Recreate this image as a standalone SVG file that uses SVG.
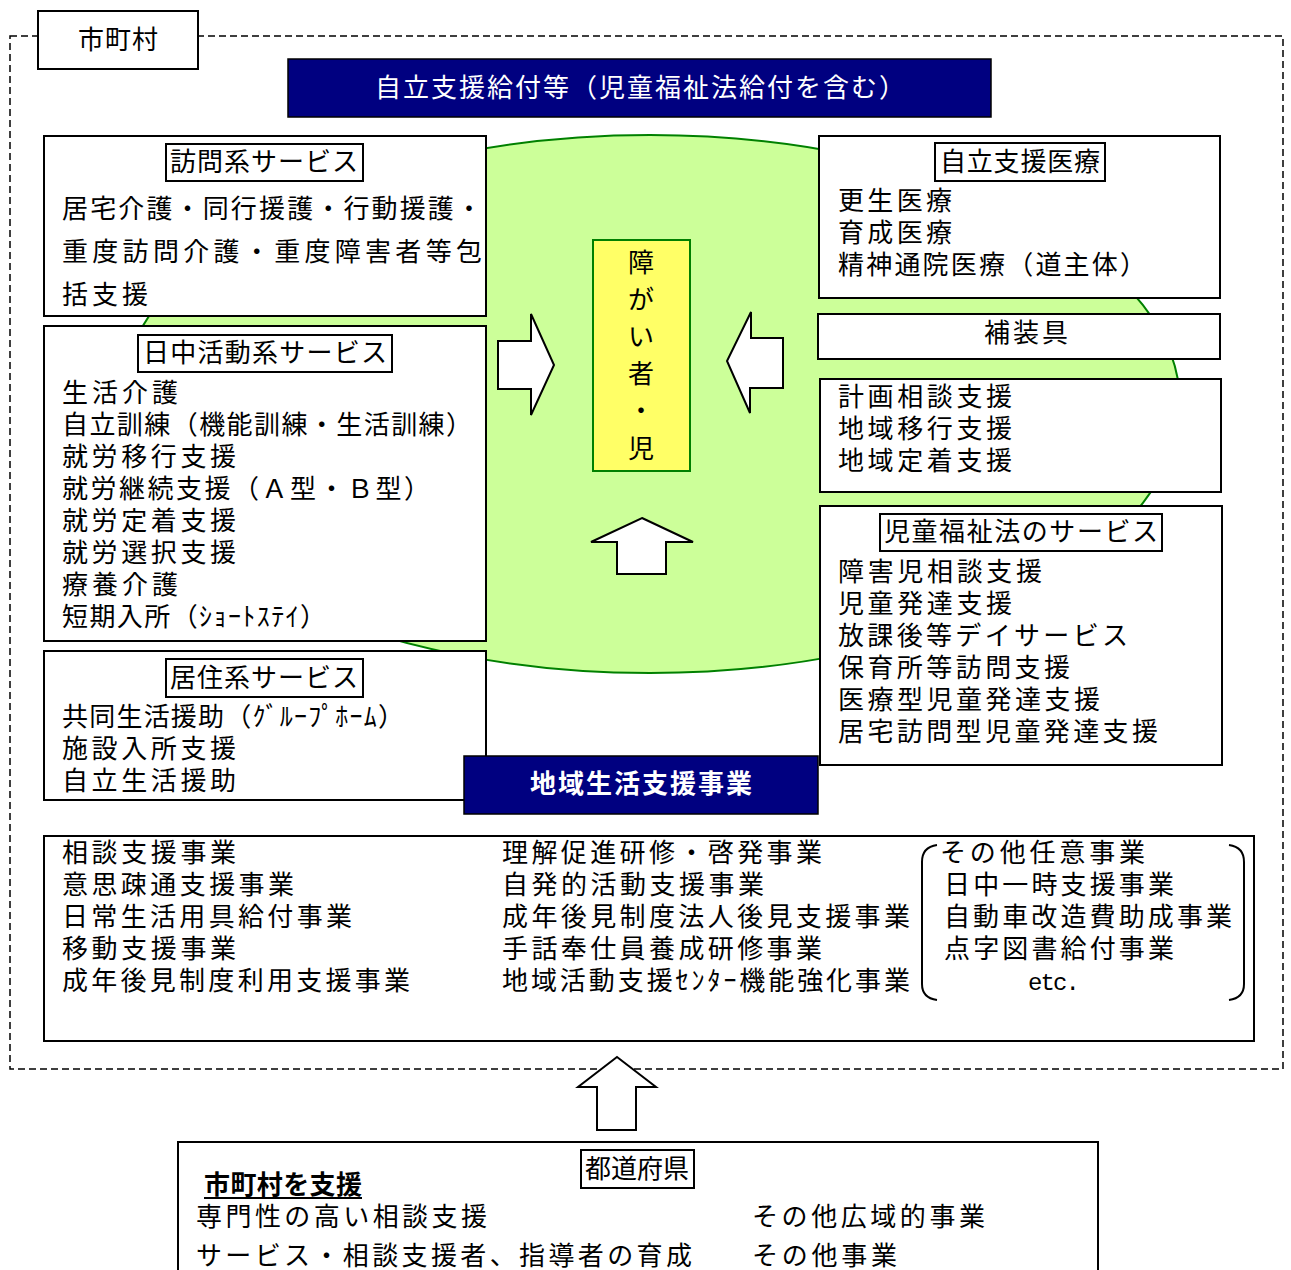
<svg xmlns="http://www.w3.org/2000/svg" width="1291" height="1270" viewBox="0 0 1291 1270">
<style>
  text { font-family: "Noto Sans CJK JP", "Liberation Sans", sans-serif; font-size: 26px; fill: #000; }
  .box { fill: #fff; stroke: #000; stroke-width: 2; }
  .tbox { fill: #fff; stroke: #000; stroke-width: 2; }
  .navy { fill: #000080; stroke: #000; stroke-width: 1.5; }
  .wt { fill: #fff; }
  .arrow { fill: #fff; stroke: #000; stroke-width: 2; stroke-linejoin: miter; }
  .mid { text-anchor: middle; }
</style>
<rect width="1291" height="1270" fill="#fff"/>

<g id="municipality-frame">
  <rect x="10" y="36" width="1273" height="1033" fill="none" stroke="#000" stroke-width="1.5" stroke-dasharray="7 4"/>
  <rect class="box" x="38" y="11" width="160" height="58"/>
  <text x="118" y="49" class="mid" textLength="80">市町村</text>
</g>

<g id="ellipse">
  <ellipse cx="650" cy="404" rx="530" ry="269" fill="#CCFF99" stroke="#008000" stroke-width="2"/>
</g>

<g id="header">
  <rect class="navy" x="288" y="59" width="703" height="58"/>
  <text x="375" y="97" class="wt" textLength="530">自立支援給付等（児童福祉法給付を含む）</text>
</g>

<g id="houmon">
  <rect class="box" x="44" y="136" width="442" height="180"/>
  <rect class="tbox" x="166" y="144" width="197" height="37"/>
  <text x="264" y="171" class="mid" textLength="188">訪問系サービス</text>
  <text x="62" y="218" textLength="420">居宅介護・同行援護・行動援護・</text>
  <text x="62" y="261" textLength="420">重度訪問介護・重度障害者等包</text>
  <text x="62" y="304" textLength="86">括支援</text>
</g>

<g id="nicchu">
  <rect class="box" x="44" y="326" width="442" height="315"/>
  <rect class="tbox" x="138" y="335" width="254" height="37"/>
  <text x="265" y="362" class="mid" textLength="244">日中活動系サービス</text>
  <text x="62" y="402" textLength="116">生活介護</text>
  <text x="62" y="434" textLength="410">自立訓練（機能訓練・生活訓練）</text>
  <text x="62" y="466" textLength="174">就労移行支援</text>
  <text x="62" y="498" textLength="368">就労継続支援（Ａ型・Ｂ型）</text>
  <text x="62" y="530" textLength="174">就労定着支援</text>
  <text x="62" y="562" textLength="174">就労選択支援</text>
  <text x="62" y="594" textLength="116">療養介護</text>
  <text x="62" y="626" textLength="264">短期入所（ｼｮｰﾄｽﾃｲ）</text>
</g>

<g id="kyoju">
  <rect class="box" x="44" y="651" width="442" height="149"/>
  <rect class="tbox" x="166" y="659" width="197" height="38"/>
  <text x="264" y="687" class="mid" textLength="188">居住系サービス</text>
  <text x="62" y="726" textLength="342">共同生活援助（ｸﾞﾙｰﾌﾟﾎｰﾑ）</text>
  <text x="62" y="758" textLength="174">施設入所支援</text>
  <text x="62" y="790" textLength="174">自立生活援助</text>
</g>

<g id="person">
  <rect x="593" y="240" width="97" height="231" fill="#FFFF66" stroke="#008000" stroke-width="2"/>
  <text x="641" y="272" class="mid">障</text>
  <text x="641" y="309" class="mid">が</text>
  <text x="641" y="346" class="mid">い</text>
  <text x="641" y="383" class="mid">者</text>
  <text x="641" y="420" class="mid">・</text>
  <text x="641" y="458" class="mid">児</text>
</g>

<g id="jiritsu-iryo">
  <rect class="box" x="819" y="136" width="401" height="162"/>
  <rect class="tbox" x="935" y="143" width="170" height="38"/>
  <text x="1020" y="171" class="mid" textLength="160">自立支援医療</text>
  <text x="838" y="210" textLength="114">更生医療</text>
  <text x="838" y="242" textLength="114">育成医療</text>
  <text x="838" y="274" textLength="308">精神通院医療（道主体）</text>
</g>

<g id="hosougu">
  <rect class="box" x="818" y="314" width="402" height="45"/>
  <text x="1026" y="342" class="mid" textLength="84">補装具</text>
</g>

<g id="soudan">
  <rect class="box" x="820" y="379" width="401" height="113"/>
  <text x="838" y="406" textLength="174">計画相談支援</text>
  <text x="838" y="438" textLength="174">地域移行支援</text>
  <text x="838" y="470" textLength="174">地域定着支援</text>
</g>

<g id="jidou">
  <rect class="box" x="820" y="506" width="402" height="259"/>
  <rect class="tbox" x="880" y="514" width="282" height="37"/>
  <text x="1021" y="541" class="mid" textLength="274">児童福祉法のサービス</text>
  <text x="838" y="581" textLength="204">障害児相談支援</text>
  <text x="838" y="613" textLength="174">児童発達支援</text>
  <text x="838" y="645" textLength="290">放課後等デイサービス</text>
  <text x="838" y="677" textLength="232">保育所等訪問支援</text>
  <text x="838" y="709" textLength="262">医療型児童発達支援</text>
  <text x="838" y="741" textLength="320">居宅訪問型児童発達支援</text>
</g>

<g id="chiiki-header">
  <rect class="navy" x="464" y="756" width="354" height="58"/>
  <text x="641" y="793" class="mid wt" font-weight="bold" textLength="222">地域生活支援事業</text>
</g>

<g id="chiiki">
  <rect class="box" x="44" y="836" width="1210" height="205"/>
  <text x="62" y="862" textLength="174">相談支援事業</text>
  <text x="62" y="894" textLength="232">意思疎通支援事業</text>
  <text x="62" y="926" textLength="290">日常生活用具給付事業</text>
  <text x="62" y="958" textLength="174">移動支援事業</text>
  <text x="62" y="990" textLength="348">成年後見制度利用支援事業</text>
  <text x="502" y="862" textLength="320">理解促進研修・啓発事業</text>
  <text x="502" y="894" textLength="262">自発的活動支援事業</text>
  <text x="502" y="926" textLength="408">成年後見制度法人後見支援事業</text>
  <text x="502" y="958" textLength="320">手話奉仕員養成研修事業</text>
  <text x="502" y="990" textLength="408">地域活動支援ｾﾝﾀｰ機能強化事業</text>
  <path d="M937 845 Q922 847 922 862 L922 984 Q922 998 937 1000" fill="none" stroke="#000" stroke-width="2"/>
  <path d="M1229 845 Q1244 847 1244 862 L1244 984 Q1244 998 1229 1000" fill="none" stroke="#000" stroke-width="2"/>
  <text x="940" y="862" textLength="205">その他任意事業</text>
  <text x="944" y="894" textLength="230">日中一時支援事業</text>
  <text x="944" y="926" textLength="288">自動車改造費助成事業</text>
  <text x="944" y="958" textLength="230">点字図書給付事業</text>
  <text x="1028" y="990" textLength="52" style="font-family:'Liberation Mono',monospace;font-size:24px">etc.</text>
</g>

<g id="prefecture">
  <rect class="box" x="178" y="1142" width="920" height="140"/>
  <rect class="tbox" x="581" y="1150" width="113" height="38"/>
  <text x="637" y="1178" class="mid" textLength="104">都道府県</text>
  <text x="204" y="1194" font-weight="bold" textLength="158">市町村を支援</text>
  <line x1="204" y1="1198" x2="362" y2="1198" stroke="#000" stroke-width="2"/>
  <text x="196" y="1226" textLength="291">専門性の高い相談支援</text>
  <text x="196" y="1265" textLength="496">サービス・相談支援者、指導者の育成</text>
  <text x="752" y="1226" textLength="233">その他広域的事業</text>
  <text x="752" y="1265" textLength="145">その他事業</text>
</g>

<g id="connectors">
  <polygon class="arrow" points="498,341 531,341 531,314 554,365 531,415 531,389 498,389"/>
  <polygon class="arrow" points="783,338 751,338 751,312 727,361 750,413 750,388 783,388"/>
  <polygon class="arrow" points="642,518 693,542 666,542 666,574 617,574 617,542 591,542"/>
  <polygon class="arrow" points="617,1057 656,1087 636,1087 636,1130 597,1130 597,1087 578,1087"/>
</g>
</svg>
